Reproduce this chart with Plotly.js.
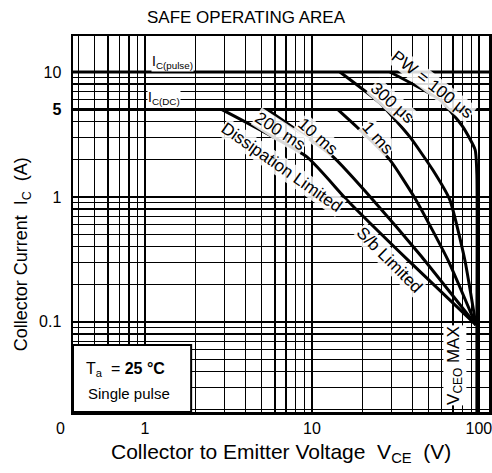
<!DOCTYPE html>
<html>
<head>
<meta charset="utf-8">
<script src="https://cdn.plot.ly/plotly-3.0.1.min.js"></script>
<style>html,body{margin:0;padding:0;background:#fff;}#chart{width:492px;height:473px;}</style>
</head>
<body>
<div id="chart"></div>
<script>
// Data (V in volts, I in amperes)
const xRange = [0.37, 115];
const yRange = [0.019, 19.4];

const icPulseV = [0.37, 115];
const icPulseI = [10, 10];

const icDcV = [0.37, 14.3];
const icDcI = [5, 5];

const pw200msV = [2.89, 9.33, 16.2, 38.6, 96.0];
const pw200msI = [5, 2.09, 0.946, 0.302, 0.0946];

const pw10msV = [5.38, 13.4, 23.2, 44.4, 96.0];
const pw10msI = [5, 2.09, 0.946, 0.344, 0.0946];

const pw1msV = [14.3, 19.4, 29.3, 42.0, 65.2, 96.0];
const pw1msI = [5, 3.44, 1.98, 0.946, 0.313, 0.0946];

const pw300usV = [14.7, 25.5, 38.6, 53.0, 67.0, 82.4, 96.0];
const pw300usI = [10, 5.65, 3.02, 1.64, 0.946, 0.313, 0.0946];

const pw100usV = [29.3, 58.4, 80.2, 95.0, 97.3, 97.3];
const pw100usI = [10, 5.97, 3.63, 2.38, 1.5, 0.0946];

const vceoMaxV = [97.3, 97.3];
const vceoMaxI = [0.0946, 0.019];

const xTickVals = [1, 10, 100];
const xTickText = ['1', '10', '100'];
const yTickVals = [0.1, 1, 5, 10];
const yTickText = ['0.1', '1', '<b>5</b>', '10'];

const FONT = 'Liberation Sans, Arial, sans-serif';
const lineStyle = {color: '#000', width: 3};

function tr(x, y, shape) {
  return {x: x, y: y, mode: 'lines', type: 'scatter', hoverinfo: 'skip',
          line: Object.assign({}, lineStyle, shape ? {shape: 'spline', smoothing: 0.5} : {})};
}

const traces = [
  tr(icPulseV, icPulseI),
  tr(icDcV, icDcI),
  tr(pw200msV, pw200msI, true),
  tr(pw10msV, pw10msI, true),
  tr(pw1msV, pw1msI, true),
  tr(pw300usV, pw300usI, true),
  tr(pw100usV, pw100usI, true),
  tr(vceoMaxV, vceoMaxI)
];

function lab(text, xp, yp, angle, size, bg) {
  return {xref: 'paper', yref: 'paper', x: xp, y: yp, text: text, showarrow: false,
          textangle: angle || 0, font: {family: FONT, size: size || 15, color: '#000'},
          bgcolor: bg ? '#fff' : 'rgba(255,255,255,0.85)', borderpad: 0,
          xanchor: 'center', yanchor: 'middle'};
}

const layout = {
  width: 492, height: 473,
  margin: {l: 73, r: 3, t: 36, b: 61},
  paper_bgcolor: '#fff', plot_bgcolor: '#fff',
  showlegend: false,
  title: {text: 'SAFE OPERATING AREA', font: {family: FONT, size: 17, color: '#000'},
          x: 0.5, xanchor: 'center', y: 0.965, yanchor: 'middle'},
  xaxis: {
    type: 'log', range: [Math.log10(xRange[0]), Math.log10(xRange[1])],
    tickmode: 'array', tickvals: xTickVals, ticktext: xTickText,
    ticks: '', ticklabelstandoff: 0, ticklabeloverflow: 'allow',
    tickfont: {family: FONT, size: 16, color: '#000'},
    showgrid: true, gridcolor: '#000', gridwidth: 2.5,
    minor: {dtick: 'D1', showgrid: true, gridcolor: '#000', gridwidth: 1.3, ticks: ''},
    showline: true, linecolor: '#000', linewidth: 2.5, mirror: true,
    zeroline: false
  },
  yaxis: {
    type: 'log', range: [Math.log10(yRange[0]), Math.log10(yRange[1])],
    tickmode: 'array', tickvals: yTickVals, ticktext: yTickText,
    ticks: '', ticklabelstandoff: 6, ticklabeloverflow: 'allow',
    tickfont: {family: FONT, size: 16, color: '#000'},
    showgrid: true, gridcolor: '#000', gridwidth: 2.5,
    minor: {dtick: 'D1', showgrid: true, gridcolor: '#000', gridwidth: 1.3, ticks: ''},
    showline: true, linecolor: '#000', linewidth: 2.5, mirror: true,
    zeroline: false
  },
  shapes: [
    {type: 'rect', xref: 'paper', yref: 'paper', x0: 0, x1: 0.284, y0: 0, y1: 0.178,
     fillcolor: '#fff', line: {color: '#000', width: 2}, layer: 'above'}
  ],
  annotations: [
    lab('I<sub>C(pulse)</sub>', 0.238, 0.931, 0, 14, true),
    lab('I<sub>C(DC)</sub>', 0.219, 0.835, 0, 14, true),
    lab('PW = 100 μs', 0.863, 0.870, 38, 17),
    lab('300 μs', 0.767, 0.824, 42, 17),
    lab('1 ms', 0.731, 0.729, 48, 17),
    lab('10 ms', 0.589, 0.734, 41, 17),
    lab('200 ms', 0.498, 0.745, 33, 17),
    lab('Dissipation Limited', 0.502, 0.649, 35, 17),
    lab('S/b Limited', 0.762, 0.404, 45, 17),
    lab('V<sub>CEO</sub> MAX', 0.918, 0.125, -90, 17, true),
    lab('T<sub>a</sub>  = <b>25 °C</b>', 0.125, 0.112, 0, 16, true),
    lab('Single pulse', 0.135, 0.05, 0, 15, true),
    {xref: 'paper', yref: 'paper', x: -0.031, y: -0.043, text: '0', showarrow: false,
     font: {family: FONT, size: 16, color: '#000'}, xanchor: 'center', yanchor: 'middle'},
    {xref: 'paper', yref: 'paper', x: 0.5, y: -0.108, text: 'Collector to Emitter Voltage  V<sub>CE</sub>  (V)',
     showarrow: false, font: {family: FONT, size: 21, color: '#000'}, xanchor: 'center', yanchor: 'middle'},
    {xref: 'paper', yref: 'paper', x: -0.122, y: 0.42, text: 'Collector Current  I<sub>C</sub>  (A)',
     showarrow: false, textangle: -90, font: {family: FONT, size: 18, color: '#000'}, xanchor: 'center', yanchor: 'middle'}
  ]
};

Plotly.newPlot('chart', traces, layout, {staticPlot: true, displayModeBar: false});
</script>
</body>
</html>
